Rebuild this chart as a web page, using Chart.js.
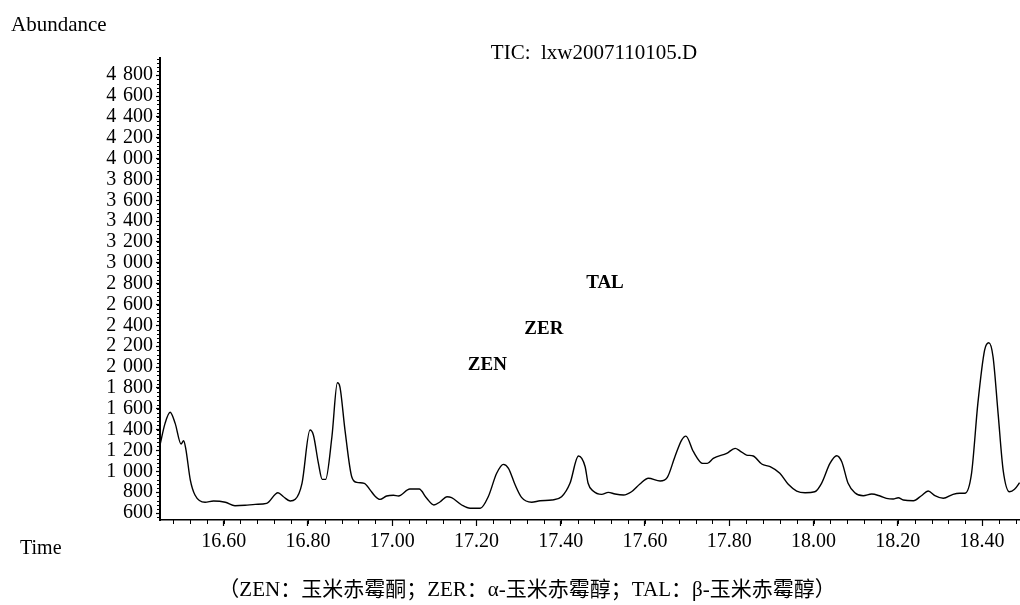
<!DOCTYPE html>
<html>
<head>
<meta charset="utf-8">
<script src="https://cdn.jsdelivr.net/npm/chart.js@4.4.1/dist/chart.umd.min.js"></script>
<style>
  html, body { margin: 0; padding: 0; background: #fff; }
  #wrap { width: 1020px; height: 605px; position: relative; }
</style>
</head>
<body>
<div id="wrap"><canvas id="c" width="1020" height="605"></canvas></div>
<script>
// ---- data ----
const times = [16.449,16.461,16.473,16.485,16.499,16.505,16.510,16.521,16.532,16.556,16.576,16.604,16.627,16.651,16.675,16.702,16.729,16.742,16.758,16.770,16.786,16.805,16.813,16.825,16.834,16.842,16.857,16.870,16.876,16.888,16.904,16.916,16.934,16.948,16.959,16.971,16.987,17.003,17.015,17.042,17.064,17.082,17.099,17.114,17.130,17.141,17.165,17.185,17.209,17.228,17.248,17.264,17.276,17.292,17.307,17.331,17.351,17.379,17.402,17.422,17.442,17.450,17.458,17.465,17.477,17.497,17.513,17.529,17.549,17.568,17.588,17.608,17.636,17.653,17.671,17.687,17.697,17.715,17.737,17.748,17.762,17.794,17.814,17.825,17.841,17.857,17.877,17.897,17.920,17.940,17.960,17.980,18.003,18.019,18.039,18.055,18.067,18.082,18.098,18.118,18.138,18.158,18.173,18.189,18.201,18.213,18.237,18.256,18.272,18.288,18.308,18.331,18.347,18.359,18.375,18.390,18.406,18.416,18.426,18.438,18.450,18.465,18.477,18.489];
const abundance = [1252,1460,1566,1460,1262,1293,1220,916,773,703,715,703,670,674,683,693,795,756,715,731,885,1396,1348,1076,923,923,1332,1849,1811,1396,948,894,885,820,763,731,763,770,763,830,830,741,677,708,756,747,677,645,645,756,981,1067,1029,868,750,703,718,725,756,885,1147,1125,1044,885,811,779,798,782,773,804,878,933,907,942,1140,1300,1338,1188,1076,1076,1124,1172,1220,1197,1156,1147,1070,1044,981,875,811,795,804,885,1076,1150,1092,885,795,766,782,763,741,734,747,725,718,766,811,766,741,779,789,789,981,1652,2163,2233,2099,1556,1012,804,827,891];

const xTickValues = [16.6,16.8,17.0,17.2,17.4,17.6,17.8,18.0,18.2,18.4];
const xTickLabels = ['16.60','16.80','17.00','17.20','17.40','17.60','17.80','18.00','18.20','18.40'];
const yTickValues = [600,800,1000,1200,1400,1600,1800,2000,2200,2400,2600,2800,3000,3200,3400,3600,3800,4000,4200,4400,4600,4800];
const yTickLabels = ['600','800','1\u2004000','1\u2004200','1\u2004400','1\u2004600','1\u2004800','2\u2004000','2\u2004200','2\u2004400','2\u2004600','2\u2004800','3\u2004000','3\u2004200','3\u2004400','3\u2004600','3\u2004800','4\u2004000','4\u2004200','4\u2004400','4\u2004600','4\u2004800'];

const peakNames = ['ZEN','ZER','TAL'];
const peakNameTimes = [17.226, 17.360, 17.505];
const peakNameLevels = [2015, 2365, 2807];

const titleText = 'TIC:  lxw2007110105.D';
const yAxisName = 'Abundance';
const xAxisName = 'Time';
const captionText = '（ZEN：玉米赤霉酮；ZER：α-玉米赤霉醇；TAL：β-玉米赤霉醇）';

// ---- chart ----
const SERIF = '"Liberation Serif", "Times New Roman", serif';
const points = times.map((t, i) => ({ x: t, y: abundance[i] }));

const extrasPlugin = {
  id: 'extras',
  afterDraw(chart) {
    const ctx = chart.ctx;
    const xs = chart.scales.x, ys = chart.scales.y;
    const area = chart.chartArea;
    ctx.save();
    // minor ticks on x
    ctx.strokeStyle = '#000';
    ctx.lineWidth = 1;
    ctx.beginPath();
    for (let k = Math.ceil(xs.min / 0.04); k * 0.04 <= xs.max; k++) {
      const v = k * 0.04;
      const px = Math.round(xs.getPixelForValue(v)) + 0.5;
      ctx.moveTo(px, area.bottom);
      ctx.lineTo(px, area.bottom + 4);
    }
    // minor ticks on y
    for (let k = Math.ceil(ys.min / 40); k * 40 <= ys.max; k++) {
      const py = Math.round(ys.getPixelForValue(k * 40)) + 0.5;
      ctx.moveTo(area.left - 3, py);
      ctx.lineTo(area.left, py);
    }
    ctx.stroke();

    ctx.fillStyle = '#000';
    // peak names
    ctx.font = 'bold 19px ' + SERIF;
    ctx.textAlign = 'center';
    ctx.textBaseline = 'middle';
    peakNames.forEach((n, i) => {
      ctx.fillText(n, xs.getPixelForValue(peakNameTimes[i]), ys.getPixelForValue(peakNameLevels[i]));
    });
    // title
    ctx.font = '21px ' + SERIF;
    ctx.textBaseline = 'alphabetic';
    ctx.textAlign = 'center';
    ctx.fillText(titleText, 594, 59);
    // axis names
    ctx.textAlign = 'left';
    ctx.fillText(yAxisName, 11, 31);
    ctx.font = '20px ' + SERIF;
    ctx.fillText(xAxisName, 20, 554);
    // caption
    ctx.font = '21px ' + SERIF + ', "Noto Sans CJK SC"';
    ctx.textAlign = 'center';
    ctx.textBaseline = 'middle';
    ctx.fillText(captionText, 527, 590);
    ctx.restore();
  }
};

new Chart(document.getElementById('c'), {
  type: 'scatter',
  data: {
    datasets: [{
      data: points,
      showLine: true,
      borderColor: '#000',
      borderWidth: 1.4,
      pointRadius: 0,
      pointHoverRadius: 0,
      fill: false,
      cubicInterpolationMode: 'monotone'
    }]
  },
  options: {
    responsive: false,
    animation: false,
    events: [],
    layout: { padding: { top: 58, left: 0, right: 0, bottom: 0 } },
    plugins: { legend: { display: false }, tooltip: { enabled: false }, title: { display: false } },
    scales: {
      x: {
        type: 'linear',
        min: 16.449,
        max: 18.49,
        afterBuildTicks(scale) { scale.ticks = xTickValues.map(v => ({ value: v })); },
        afterFit(scale) { scale.height = 85; },
        ticks: {
          color: '#000',
          font: { family: SERIF, size: 20 },
          padding: 4,
          maxRotation: 0,
          autoSkip: false,
          callback: (v, i) => xTickLabels[i]
        },
        grid: { display: true, drawOnChartArea: false, drawTicks: true, tickLength: 6, color: '#000', tickWidth: 1.2 },
        border: { display: true, color: '#000', width: 1.5 }
      },
      y: {
        type: 'linear',
        min: 533,
        max: 4965,
        afterBuildTicks(scale) { scale.ticks = yTickValues.map(v => ({ value: v })); },
        afterFit(scale) { scale.width = 160; },
        ticks: {
          color: '#000',
          font: { family: SERIF, size: 20 },
          padding: 3,
          autoSkip: false,
          callback: (v, i) => yTickLabels[i]
        },
        grid: { display: true, drawOnChartArea: false, drawTicks: true, tickLength: 4, color: '#000', tickWidth: 1.2 },
        border: { display: true, color: '#000', width: 2 }
      }
    }
  },
  plugins: [extrasPlugin]
});
</script>
</body>
</html>
